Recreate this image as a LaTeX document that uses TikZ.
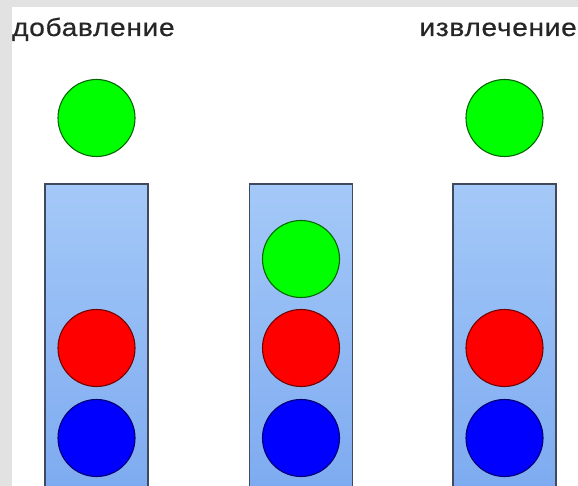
\documentclass[tikz,border=0pt]{standalone}
\usepackage{fontspec}
\setmainfont{Liberation Sans}
\newfontfamily\captionfont[FakeStretch=1.12,LetterSpace=3,FakeBold=0.6]{Liberation Sans}
\usepackage{xcolor}
\usepackage{tikz}
\usetikzlibrary{positioning}
\definecolor{stackframe}{HTML}{404A5C}
\definecolor{stacktop}{HTML}{A4C9F8}
\definecolor{stackbottom}{HTML}{7CA9F0}
\definecolor{pagegray}{HTML}{E2E2E2}
\definecolor{ballgreen}{HTML}{00FF00}
\definecolor{ballred}{HTML}{FF0000}
\definecolor{ballblue}{HTML}{0000FF}

\begin{document}
\begin{tikzpicture}[
        x=1pt, y=-1pt,
        stackbox/.style={
            draw=stackframe,
            line width=1.6pt,
            top color=stacktop,
            bottom color=stackbottom,
            minimum width=103pt,
            minimum height=320pt,
            inner sep=0pt,
            anchor=north
        },
        ball/.style={
            circle,
            line width=1.1pt,
            minimum size=77pt,
            inner sep=0pt
        },
        greenball/.style={ball, fill=ballgreen, draw=ballgreen!40!black},
        redball/.style={ball, fill=ballred, draw=ballred!45!black},
        blueball/.style={ball, fill=ballblue, draw=ballblue!45!black},
        caption/.style={font=\captionfont\fontsize{25}{30}\selectfont, text=black!85, inner sep=0pt}
    ]
        \useasboundingbox (0,0) rectangle (578,486);
        \clip (0,0) rectangle (578,486);
        \fill[pagegray] (0,0) rectangle (578,486);
        \fill[white] (12,7) rectangle (578,486);

        \node[caption, anchor=base west] (push) at (12,36) {добавление};
        \node[caption, anchor=base east] (pop) at (577,36) {извлечение};

        \node[stackbox] (before) at (96.5,183) {};
        \node[stackbox] (during) at (301,183) {};
        \node[stackbox] (after) at (504.5,183) {};

        \node[greenball] (newin) at (96.5,118) {};
        \node[greenball] (newout) at (504.5,118) {};

        \node[redball] (beforered) at (96.5,348) {};
        \node[blueball] (beforeblue) at (96.5,438) {};

        \node[greenball] (duringgreen) at (301,259) {};
        \node[redball] (duringred) at (301,348) {};
        \node[blueball] (duringblue) at (301,438) {};

        \node[redball] (afterred) at (504.5,348) {};
        \node[blueball] (afterblue) at (504.5,438) {};
    \end{tikzpicture}
\end{document}
